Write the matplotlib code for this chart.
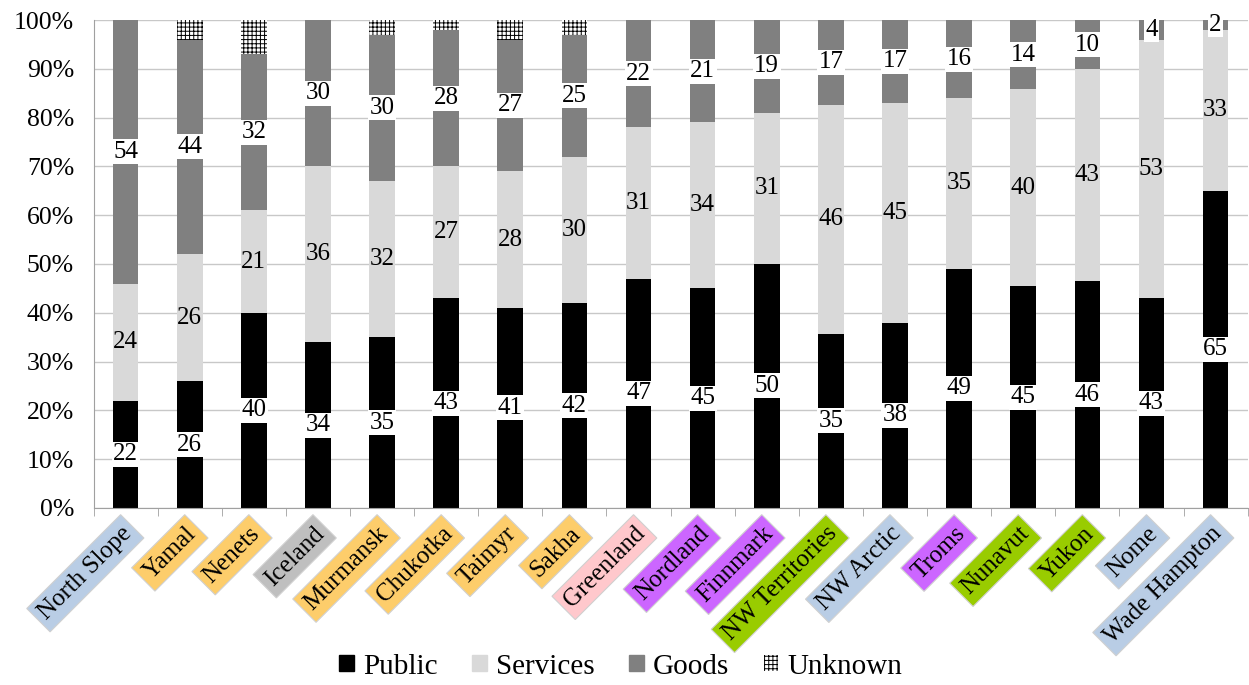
import numpy as np
import matplotlib
matplotlib.use("Agg")
import matplotlib.pyplot as plt
from matplotlib.patches import Patch

plt.rcParams['font.family'] = ['Liberation Serif', 'DejaVu Serif']
plt.rcParams['hatch.linewidth'] = 0.7

regions = ['North Slope', 'Yamal', 'Nenets', 'Iceland', 'Murmansk', 'Chukotka',
           'Taimyr', 'Sakha', 'Greenland', 'Nordland', 'Finnmark', 'NW Territories',
           'NW Arctic', 'Troms', 'Nunavut', 'Yukon', 'Nome', 'Wade Hampton']
public = [22, 26, 40, 34, 35, 43, 41, 42, 47, 45, 50, 35, 38, 49, 45, 46, 43, 65]
services = [24, 26, 21, 36, 32, 27, 28, 30, 31, 34, 31, 46, 45, 35, 40, 43, 53, 33]
goods = [54, 44, 32, 30, 30, 28, 27, 25, 22, 21, 19, 17, 17, 16, 14, 10, 4, 2]
unknown = [0, 4, 7, 0, 3, 2, 4, 3, 0, 0, 0, 0, 0, 0, 0, 0, 0, 0]
label_colors = ['#b9cde5', '#fdcd6b', '#fdcd6b', '#bfbfbf', '#fdcd6b', '#fdcd6b',
                '#fdcd6b', '#fdcd6b', '#ffc8cc', '#cc66ff', '#cc66ff', '#99cc00',
                '#b9cde5', '#cc66ff', '#99cc00', '#99cc00', '#b9cde5', '#b9cde5']

series = [('Public', public, dict(color='black')),
          ('Services', services, dict(color='#d9d9d9')),
          ('Goods', goods, dict(color='#808080')),
          ('Unknown', unknown, dict(facecolor='white', edgecolor='black', hatch='++++', linewidth=0))]

data = np.array([public, services, goods, unknown], dtype=float)
pct = data / data.sum(axis=0) * 100

fig = plt.figure(figsize=(12.49, 6.85), dpi=100)
ax = fig.add_axes([0.0749, 0.2584, 0.924, 0.7124])
x = np.arange(len(regions))
bottom = np.zeros(len(regions))
handles = []
for i, (name, vals, style) in enumerate(series):
    ax.bar(x, pct[i], 0.4, bottom=bottom, zorder=2, **style)
    if name != 'Unknown':
        for xi, v, b, p in zip(x, vals, bottom, pct[i]):
            box = None
            if name != 'Services':
                box = dict(facecolor='white', edgecolor='none', pad=1.0)
            ax.text(xi, b + p / 2, str(v), ha='center', va='center', fontsize=18,
                    zorder=3, bbox=box)
    bottom += pct[i]
    handles.append(Patch(label=name, **style))

ax.set_xlim(-0.5, len(regions) - 0.5)
ax.set_ylim(0, 100)
ax.set_yticks(np.arange(0, 101, 10))
ax.set_yticklabels(['%d%%' % v for v in range(0, 101, 10)], fontsize=18.5)
ax.yaxis.grid(True, color='#c8c8c8', linewidth=1, zorder=0)
ax.set_axisbelow(True)
ax.tick_params(axis='y', length=0, pad=14)
for s in ['top', 'right']:
    ax.spines[s].set_visible(False)
for s in ['left', 'bottom']:
    ax.spines[s].set_color('#a0a0a0')

ax.set_xticks(x)
ax.set_xticklabels([])
ax.tick_params(axis='x', which='major', length=0)
ax.set_xticks(np.arange(-0.5, len(regions), 1), minor=True)
ax.tick_params(axis='x', which='minor', length=6, color='#a0a0a0')

for xi, name, c in zip(x, regions, label_colors):
    ax.annotate(name, (xi, 0), xytext=(2, -16), textcoords='offset points',
                rotation=45, ha='right', va='center', rotation_mode='anchor', fontsize=18,
                bbox=dict(facecolor=c, edgecolor='#d0d0d0', pad=4, linewidth=0.8),
                annotation_clip=False)

fig.legend(handles=handles, loc='center', ncol=4, frameon=False, fontsize=21,
           bbox_to_anchor=(0.497, 0.027), handlelength=0.5, handleheight=0.5,
           handletextpad=0.3, columnspacing=1.2)

fig.savefig('out.png', dpi=100)
